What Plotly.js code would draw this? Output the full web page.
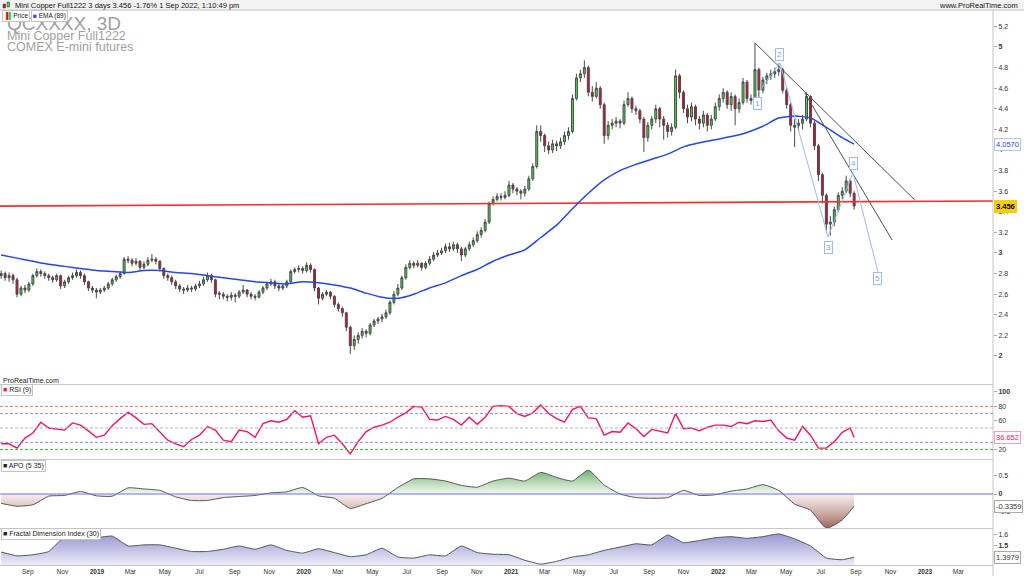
<!DOCTYPE html>
<html><head><meta charset="utf-8">
<script src="https://cdn.plot.ly/plotly-3.0.1.min.js"></script>
<style>html,body{margin:0;padding:0;background:#fff}#chart{width:1024px;height:576px}</style>
</head><body><div id="chart"></div>
<script>
// ---------- DATA (weekly bars, first bar 2018-07-16) ----------
const openPrice = [2.78,2.80,2.76,2.78,2.74,2.60,2.66,2.64,2.70,2.78,
2.82,2.80,2.78,2.76,2.74,2.78,2.68,2.72,2.76,2.78,
2.81,2.78,2.72,2.66,2.64,2.62,2.64,2.66,2.70,2.74,
2.77,2.80,2.94,2.93,2.90,2.92,2.86,2.89,2.93,2.94,
2.92,2.85,2.78,2.76,2.72,2.68,2.65,2.64,2.66,2.65,
2.68,2.70,2.74,2.78,2.74,2.61,2.60,2.58,2.57,2.59,
2.58,2.62,2.64,2.60,2.58,2.57,2.62,2.66,2.70,2.72,
2.68,2.66,2.68,2.72,2.82,2.84,2.85,2.83,2.88,2.84,
2.66,2.56,2.60,2.62,2.58,2.50,2.46,2.42,2.28,2.10,
2.16,2.20,2.24,2.22,2.30,2.34,2.36,2.38,2.42,2.52,
2.60,2.66,2.76,2.86,2.90,2.88,2.90,2.86,2.90,2.94,
2.98,3.00,3.02,3.06,3.04,3.08,3.04,2.98,3.04,3.08,
3.12,3.18,3.22,3.30,3.48,3.52,3.55,3.54,3.56,3.66,
3.62,3.60,3.58,3.62,3.72,3.84,4.18,4.14,4.04,4.00,
4.06,4.04,4.08,4.14,4.18,4.50,4.70,4.74,4.80,4.56,
4.52,4.60,4.44,4.14,4.24,4.26,4.28,4.26,4.44,4.50,
4.40,4.38,4.30,4.12,4.24,4.30,4.40,4.30,4.24,4.18,
4.22,4.72,4.56,4.40,4.32,4.42,4.30,4.26,4.34,4.24,
4.30,4.42,4.50,4.56,4.44,4.52,4.40,4.46,4.66,4.50,
4.48,4.78,4.58,4.68,4.72,4.74,4.76,4.78,4.58,4.44,
4.22,4.24,4.26,4.30,4.52,4.26,4.04,3.76,3.56,3.28,
3.30,3.42,3.56,3.60,3.70,3.58];
const highPrice = [2.83,2.82,2.81,2.80,2.76,2.68,2.69,2.72,2.80,2.85,
2.84,2.82,2.80,2.78,2.80,2.79,2.74,2.78,2.81,2.84,
2.83,2.80,2.73,2.68,2.66,2.66,2.68,2.72,2.76,2.79,
2.82,2.96,2.97,2.95,2.95,2.93,2.92,2.96,2.99,2.96,
2.93,2.86,2.80,2.78,2.74,2.70,2.67,2.69,2.68,2.70,
2.73,2.77,2.81,2.80,2.75,2.63,2.62,2.60,2.62,2.61,
2.64,2.69,2.65,2.62,2.60,2.64,2.68,2.72,2.75,2.74,
2.70,2.70,2.74,2.84,2.86,2.88,2.87,2.91,2.90,2.85,
2.67,2.62,2.64,2.63,2.59,2.52,2.48,2.43,2.29,2.20,
2.23,2.27,2.26,2.32,2.36,2.38,2.41,2.45,2.54,2.63,
2.70,2.78,2.89,2.93,2.92,2.93,2.91,2.92,2.97,3.01,
3.03,3.05,3.09,3.10,3.11,3.10,3.06,3.06,3.11,3.15,
3.21,3.25,3.33,3.50,3.55,3.58,3.58,3.60,3.70,3.68,
3.64,3.62,3.65,3.75,3.87,4.24,4.24,4.16,4.08,4.10,
4.09,4.12,4.18,4.22,4.54,4.74,4.78,4.87,4.82,4.62,
4.66,4.62,4.46,4.28,4.30,4.32,4.30,4.48,4.56,4.52,
4.43,4.40,4.32,4.27,4.33,4.44,4.42,4.33,4.27,4.26,
4.78,4.74,4.58,4.44,4.46,4.44,4.33,4.38,4.36,4.34,
4.46,4.54,4.60,4.58,4.56,4.54,4.50,4.70,4.68,4.54,
5.04,4.80,4.71,4.75,4.78,4.80,4.84,4.80,4.60,4.46,
4.30,4.30,4.34,4.56,4.53,4.28,4.06,3.78,3.58,3.36,
3.45,3.59,3.64,3.75,3.72,3.60];
const lowPrice = [2.75,2.73,2.72,2.70,2.57,2.58,2.61,2.62,2.68,2.76,
2.77,2.75,2.73,2.71,2.72,2.65,2.66,2.70,2.74,2.76,
2.75,2.69,2.63,2.61,2.56,2.60,2.62,2.64,2.68,2.72,
2.75,2.79,2.90,2.87,2.88,2.83,2.84,2.87,2.91,2.89,
2.82,2.75,2.73,2.69,2.65,2.62,2.60,2.62,2.62,2.63,
2.66,2.68,2.72,2.71,2.57,2.55,2.55,2.53,2.54,2.52,
2.56,2.60,2.57,2.55,2.54,2.56,2.60,2.64,2.68,2.65,
2.63,2.64,2.66,2.70,2.80,2.81,2.80,2.81,2.81,2.63,
2.50,2.54,2.58,2.55,2.47,2.43,2.38,2.24,2.02,2.06,
2.12,2.17,2.18,2.20,2.28,2.31,2.33,2.36,2.40,2.50,
2.58,2.64,2.74,2.84,2.85,2.86,2.83,2.84,2.88,2.92,
2.96,2.98,3.00,3.01,3.02,3.00,2.92,2.96,3.02,3.06,
3.10,3.15,3.20,3.28,3.46,3.50,3.51,3.52,3.54,3.58,
3.56,3.52,3.55,3.60,3.70,3.82,4.08,3.98,3.96,3.97,
3.99,4.01,4.05,4.10,4.16,4.48,4.66,4.70,4.52,4.47,
4.50,4.40,4.06,4.10,4.20,4.22,4.21,4.24,4.42,4.36,
4.34,4.26,3.98,4.08,4.20,4.26,4.22,4.10,4.12,4.14,
4.20,4.50,4.36,4.26,4.28,4.24,4.20,4.22,4.18,4.20,
4.28,4.38,4.46,4.40,4.38,4.24,4.36,4.44,4.46,4.44,
4.46,4.50,4.55,4.64,4.68,4.70,4.72,4.55,4.40,4.18,
4.03,4.18,4.20,4.28,4.22,4.00,3.70,3.48,3.20,3.17,
3.26,3.40,3.52,3.58,3.54,3.42];
const closePrice = [2.80,2.76,2.78,2.74,2.60,2.66,2.64,2.70,2.78,2.82,
2.80,2.78,2.76,2.74,2.78,2.68,2.72,2.76,2.78,2.81,
2.78,2.72,2.66,2.64,2.62,2.64,2.66,2.70,2.74,2.77,
2.80,2.94,2.93,2.90,2.92,2.86,2.89,2.93,2.94,2.92,
2.85,2.78,2.76,2.72,2.68,2.65,2.64,2.66,2.65,2.68,
2.70,2.74,2.78,2.74,2.60,2.60,2.58,2.57,2.59,2.58,
2.62,2.64,2.60,2.58,2.57,2.62,2.66,2.70,2.72,2.68,
2.66,2.68,2.72,2.82,2.84,2.85,2.83,2.88,2.84,2.66,
2.56,2.60,2.62,2.58,2.50,2.46,2.42,2.28,2.10,2.16,
2.20,2.24,2.22,2.30,2.34,2.36,2.38,2.42,2.52,2.60,
2.66,2.76,2.86,2.90,2.88,2.90,2.86,2.90,2.94,2.98,
3.00,3.02,3.06,3.04,3.08,3.04,2.98,3.04,3.08,3.12,
3.18,3.22,3.30,3.48,3.52,3.55,3.54,3.56,3.66,3.62,
3.60,3.58,3.62,3.72,3.84,4.18,4.14,4.04,4.00,4.06,
4.04,4.08,4.14,4.18,4.50,4.70,4.74,4.80,4.56,4.52,
4.60,4.44,4.14,4.24,4.26,4.28,4.26,4.44,4.50,4.40,
4.38,4.30,4.12,4.24,4.30,4.40,4.30,4.24,4.18,4.22,
4.72,4.56,4.40,4.32,4.42,4.30,4.26,4.34,4.24,4.30,
4.42,4.50,4.56,4.44,4.52,4.40,4.46,4.66,4.50,4.48,
4.78,4.58,4.68,4.72,4.74,4.76,4.78,4.58,4.44,4.24,
4.24,4.26,4.30,4.52,4.26,4.04,3.76,3.56,3.28,3.30,
3.42,3.56,3.60,3.70,3.58,3.456];

// EMA(89): read every 4th bar + last bar
const emaValues = [2.98,2.95,2.92,2.89,2.87,2.85,2.83,2.82,2.81,2.83,
2.83,2.81,2.80,2.78,2.76,2.74,2.72,2.71,2.70,2.72,
2.71,2.69,2.66,2.61,2.57,2.56,2.60,2.66,2.71,2.78,
2.84,2.92,2.98,3.03,3.15,3.27,3.43,3.58,3.71,3.80,
3.86,3.91,3.96,4.03,4.07,4.10,4.13,4.17,4.23,4.31,
4.33,4.31,4.22,4.12,4.057];
// RSI(9): read every 2nd bar + last bar
const rsiValues = [28,28,22,36,43,58,50,48,47,57,
54,46,37,40,53,63,72,64,55,56,
45,33,28,24,34,40,52,47,33,31,
47,45,37,56,60,58,62,74,65,67,
28,37,40,28,14,31,45,51,54,58,
65,71,80,79,62,61,66,62,54,65,
55,65,80,81,80,70,66,71,82,70,
63,58,76,80,64,63,40,45,44,57,
49,38,48,45,43,70,49,50,46,51,
54,54,52,58,56,60,59,61,46,36,
33,52,40,22,22,31,44,50,36.652];
const rsiLevels = [80,70,50,30,20];
const rsiLevelColors = ['#ff6f6f','#8c8cff','#b4b4b4','#8c8cff','#3cb43c'];
// APO(5,35): every 4th bar + last
const apoValues = [-0.26,-0.34,-0.30,-0.06,-0.04,0.07,-0.05,-0.06,0.17,0.14,
0.10,-0.08,-0.18,-0.18,-0.10,-0.07,-0.04,0.03,0.06,0.18,
-0.05,-0.12,-0.40,-0.27,-0.12,0.18,0.42,0.42,0.36,0.24,
0.19,0.36,0.44,0.36,0.60,0.46,0.36,0.66,0.25,0.00,
-0.10,-0.12,-0.10,0.10,-0.04,-0.02,0.08,0.14,0.26,0.10,
-0.28,-0.45,-0.95,-0.72,-0.3359];
// Fractal Dimension Index(30): every 4th bar + last
const fdiValues = [1.445,1.41,1.42,1.45,1.585,1.585,1.575,1.59,1.50,1.51,
1.51,1.48,1.45,1.45,1.47,1.50,1.47,1.51,1.46,1.435,
1.475,1.44,1.403,1.42,1.48,1.40,1.39,1.42,1.41,1.50,
1.44,1.425,1.42,1.37,1.335,1.36,1.40,1.42,1.46,1.49,
1.52,1.51,1.60,1.53,1.55,1.575,1.585,1.57,1.585,1.61,
1.565,1.50,1.39,1.375,1.3979];

// drawing tools
const supportDates = ['2018-07-14','2023-05-01'];
const supportValues = [3.455,3.505];
const trend1Dates = ['2022-03-07','2022-12-14'];
const trend1Values = [5.04,3.515];
const trend2Dates = ['2022-06-03','2022-11-04'];
const trend2Values = [4.553,3.126];
const waveDates = ['2022-03-12','2022-04-20','2022-07-14','2022-08-27','2022-10-10'];
const waveValues = [4.553,4.845,3.155,3.777,2.816];
const waveLabels = ['1','2','3','4','5'];

// axis ticks
const monthTickDates = ['2018-09-01','2018-11-01','2019-01-01','2019-03-01','2019-05-01','2019-07-01','2019-09-01','2019-11-01',
'2020-01-01','2020-03-01','2020-05-01','2020-07-01','2020-09-01','2020-11-01','2021-01-01','2021-03-01','2021-05-01','2021-07-01',
'2021-09-01','2021-11-01','2022-01-01','2022-03-01','2022-05-01','2022-07-01','2022-09-01','2022-11-01','2023-01-01','2023-03-01'];
const monthTickLabels = ['Sep','Nov','2019','Mar','May','Jul','Sep','Nov','2020','Mar','May','Jul','Sep','Nov','2021','Mar','May','Jul',
'Sep','Nov','2022','Mar','May','Jul','Sep','Nov','2023','Mar'];
const priceTicks = [2,2.2,2.4,2.6,2.8,3,3.2,3.4,3.6,3.8,4,4.2,4.4,4.6,4.8,5,5.2];
const rsiTicks = [20,40,60,80,100];
const apoTicks = [-0.5,0,0.5];
const fdiTicks = [1.5,1.6];

// ---------- BUILD ----------
function weekDate(i){const d=new Date(Date.UTC(2018,6,16+7*i));return d.toISOString().slice(0,10);}
const dates = closePrice.map((_,i)=>weekDate(i));
const last = closePrice.length-1;
const idx4=[];for(let i=0;i<=last-3;i+=4)idx4.push(i);idx4.push(last);
const idx2=[];for(let i=0;i<last;i+=2)idx2.push(i);idx2.push(last);
const d4 = idx4.map(i=>dates[i]);
const d2 = idx2.map(i=>dates[i]);

const FONT='Liberation Sans, Arial, sans-serif';
const PB=565, PT=10, PH=555, PR=993;
const fy = y => (PB-y)/PH;   // pixel row -> paper
const fx = x => x/PR;        // pixel col -> paper
const boldTxt = (arr, isBold) => arr.map(v => isBold(v) ? '<b>'+v+'</b>' : String(v));

const traces = [
 {type:'candlestick', x:dates, open:openPrice, high:highPrice, low:lowPrice, close:closePrice,
  xaxis:'x', yaxis:'y', whiskerwidth:0,
  increasing:{line:{color:'#4a4a4a',width:1}, fillcolor:'#46d646'},
  decreasing:{line:{color:'#4a4a4a',width:1}, fillcolor:'#e0092e'},
  hoverinfo:'skip', showlegend:false},
 {type:'scatter', mode:'lines', x:supportDates, y:supportValues, xaxis:'x', yaxis:'y',
  line:{color:'#ff2a2a', width:1.6}, hoverinfo:'skip', showlegend:false},
 {type:'scatter', mode:'lines', x:d4, y:emaValues, xaxis:'x', yaxis:'y',
  line:{color:'#2747e8', width:1.5, shape:'spline', smoothing:0.6}, hoverinfo:'skip', showlegend:false},
 {type:'scatter', mode:'lines', x:trend1Dates, y:trend1Values, xaxis:'x', yaxis:'y',
  line:{color:'#505050', width:1}, hoverinfo:'skip', showlegend:false},
 {type:'scatter', mode:'lines', x:trend2Dates, y:trend2Values, xaxis:'x', yaxis:'y',
  line:{color:'#505050', width:1}, hoverinfo:'skip', showlegend:false},
 {type:'scatter', mode:'lines', x:waveDates, y:waveValues, xaxis:'x', yaxis:'y',
  line:{color:'#9dbaf6', width:1}, hoverinfo:'skip', showlegend:false},
 {type:'scatter', mode:'lines', x:d2, y:rsiValues, xaxis:'x', yaxis:'y2',
  line:{color:'#f2165e', width:1.4}, hoverinfo:'skip', showlegend:false},
 {type:'scatter', mode:'lines', x:d4, y:apoValues, xaxis:'x', yaxis:'y3',
  line:{color:'#555', width:1, shape:'spline', smoothing:0.5}, fill:'tozeroy',
  fillgradient:{type:'vertical', start:-0.95, stop:0.7,
    colorscale:[[0,'rgba(150,80,70,0.9)'],[0.575,'rgba(240,225,222,0.6)'],[0.576,'rgba(228,242,224,0.6)'],[1,'rgba(80,160,80,0.9)']]},
  hoverinfo:'skip', showlegend:false},
 {type:'scatter', mode:'lines', x:d4, y:fdiValues, xaxis:'x', yaxis:'y4',
  line:{color:'#555', width:1, shape:'spline', smoothing:0.4}, fill:'tozeroy',
  fillgradient:{type:'vertical', start:1.33, stop:1.65,
    colorscale:[[0,'rgba(235,235,248,1)'],[1,'rgba(140,140,205,1)']]},
  hoverinfo:'skip', showlegend:false}
];

const shapes = [
 {type:'rect', xref:'paper', yref:'paper', x0:0, x1:1024/PR, y0:fy(PT), y1:fy(0), fillcolor:'#f3f3f3', line:{width:0}, layer:'below'},
 {type:'line', xref:'paper', yref:'paper', x0:0, x1:1024/PR, y0:fy(PT), y1:fy(PT), line:{color:'#c4c4c4', width:1}},
 {type:'line', xref:'paper', yref:'paper', x0:0, x1:1, y0:fy(384.5), y1:fy(384.5), line:{color:'#c8c8c8', width:1}},
 {type:'line', xref:'paper', yref:'paper', x0:0, x1:1, y0:fy(459.5), y1:fy(459.5), line:{color:'#c8c8c8', width:1}},
 {type:'line', xref:'paper', yref:'paper', x0:0, x1:1, y0:fy(528.5), y1:fy(528.5), line:{color:'#c8c8c8', width:1}},
 {type:'line', xref:'paper', yref:'paper', x0:1, x1:1, y0:fy(576), y1:fy(PT), line:{color:'#c4c4c4', width:1}},
 {type:'line', xref:'paper', yref:'y3', x0:0, x1:1, y0:0, y1:0, line:{color:'#6f6fff', width:1.2}},
 // header icon
 {type:'rect', xref:'paper', yref:'paper', x0:fx(3), x1:fx(5.5), y0:fy(8), y1:fy(4), fillcolor:'#e0092e', line:{color:'#333',width:0.5}},
 {type:'rect', xref:'paper', yref:'paper', x0:fx(7), x1:fx(9.5), y0:fy(7), y1:fy(2), fillcolor:'#46d646', line:{color:'#333',width:0.5}}
];
rsiLevels.forEach((v,k)=>shapes.push({type:'line', xref:'paper', yref:'y2', x0:0, x1:1, y0:v, y1:v,
  line:{color:rsiLevelColors[k], width:1, dash:'3px,2px'}}));

const ann = [];
const A = o => ann.push(Object.assign({showarrow:false, font:{family:FONT, size:7, color:'#222'}}, o));
A({xref:'paper', yref:'paper', x:fx(13), y:fy(5), xanchor:'left', yanchor:'middle', text:'Mini Copper Full1222 3 days 3.456 -1.76% 1 Sep 2022, 1:10:49 pm', font:{family:FONT,size:7.5,color:'#111'}});
A({xref:'paper', yref:'paper', x:1020/PR, y:fy(5), xanchor:'right', yanchor:'middle', text:'www.ProRealTime.com', font:{family:FONT,size:7.5,color:'#111'}});
A({xref:'paper', yref:'paper', x:fx(5), y:fy(23.5), xanchor:'left', yanchor:'middle', text:'QCXXXX, 3D', font:{family:FONT,size:19,color:'#9f9f9f'}});
A({xref:'paper', yref:'paper', x:fx(5), y:fy(36.5), xanchor:'left', yanchor:'middle', text:'Mini Copper Full1222', font:{family:FONT,size:12.5,color:'#9f9f9f'}});
A({xref:'paper', yref:'paper', x:fx(5), y:fy(47), xanchor:'left', yanchor:'middle', text:'COMEX E-mini futures', font:{family:FONT,size:12.5,color:'#9f9f9f'}});
const legendBox = {bgcolor:'#ffffff', bordercolor:'#c4c4c4', borderwidth:1, borderpad:1, xanchor:'left', yanchor:'middle', xref:'paper', yref:'paper'};
A(Object.assign({x:fx(1.5), y:fy(15.5), text:'<span style="color:#e0092e">▐</span><span style="color:#3cc83c">▌</span>Price', font:{family:FONT,size:6.5,color:'#222'}}, legendBox));
A(Object.assign({x:fx(31), y:fy(15.5), text:'<span style="color:#2747e8">■</span> EMA (89)', font:{family:FONT,size:6.5,color:'#222'}}, legendBox));
A({xref:'paper', yref:'paper', x:fx(1), y:fy(380.5), xanchor:'left', yanchor:'middle', text:'ProRealTime.com', font:{family:FONT,size:7,color:'#222'}});
A(Object.assign({x:fx(1), y:fy(390), text:'<span style="color:#f2165e">■</span> RSI (9)'}, legendBox));
A(Object.assign({x:fx(1), y:fy(466), text:'■ APO (5 35)'}, legendBox));
A(Object.assign({x:fx(1), y:fy(533.5), text:'■ Fractal Dimension Index (30)'}, legendBox));
// wave labels
const waveShift = [-10, 8, -10, 9, -7];
waveLabels.forEach((t,k)=>A({xref:'x', yref:'y', x:waveDates[k], y:waveValues[k], yshift:waveShift[k], text:t,
  font:{family:FONT,size:8,color:'#7f9ff0'}, bgcolor:'#ffffff', bordercolor:'#9dbaf6', borderwidth:1, borderpad:1}));
// value tags on the right axis
const tag = (yref, v, txt, fc, bg, bc, bold) => A({xref:'paper', yref:yref, x:1, y:v, xanchor:'left', yanchor:'middle', xshift:1,
  text: bold?'<b>'+txt+'</b>':txt, font:{family:FONT,size:7.5,color:fc}, bgcolor:bg, bordercolor:bc, borderwidth:1, borderpad:1});
tag('y', emaValues[emaValues.length-1], '4.0570', '#2747e8', '#ffffff', '#b8c4f0', false);
tag('y', closePrice[last], '3.456', '#000000', '#f5d000', '#f5d000', true);
tag('y2', rsiValues[rsiValues.length-1], '36.652', '#f2165e', '#ffffff', '#f2a0b8', false);
tag('y3', apoValues[apoValues.length-1], '-0.3359', '#333', '#ffffff', '#aaaaaa', false);
tag('y4', fdiValues[fdiValues.length-1], '1.3979', '#333', '#ffffff', '#aaaaaa', false);

const yax = (domain, range, ticks, boldFn) => ({domain, range, side:'right', anchor:'x', tickmode:'array', tickvals:ticks,
  ticktext:boldTxt(ticks, boldFn), tickfont:{family:FONT,size:7,color:'#333'}, ticks:'outside', ticklen:3, tickcolor:'#aaa',
  showgrid:false, zeroline:false, showline:false, fixedrange:true});

const layout = {
  width:1024, height:576, autosize:false, paper_bgcolor:'#ffffff', plot_bgcolor:'#ffffff',
  margin:{l:0, r:31, t:PT, b:11, pad:0}, showlegend:false, font:{family:FONT},
  xaxis:{domain:[0,1], range:['2018-07-14','2023-05-01'], type:'date', anchor:'y4', tickmode:'array', tickvals:monthTickDates,
    ticktext:monthTickLabels.map(t=>/^\d{4}$/.test(t)?'<b>'+t+'</b>':t), tickfont:{family:FONT,size:6.5,color:'#333'},
    ticks:'', showline:true, linecolor:'#c4c4c4', showgrid:false, zeroline:false,
    rangeslider:{visible:false}, fixedrange:true},
  yaxis: yax([fy(384), 1], [1.728, 5.359], priceTicks, v=>Number.isInteger(v)),
  yaxis2: yax([fy(459), fy(385)], [6.9, 109.7], rsiTicks, v=>v===100),
  yaxis3: yax([fy(528), fy(460)], [-0.944, 0.944], apoTicks, v=>v===0),
  yaxis4: yax([0, fy(529)], [1.327, 1.6545], fdiTicks, v=>v===1.5),
  shapes, annotations:ann
};
Plotly.newPlot('chart', traces, layout, {displayModeBar:false, staticPlot:true});
</script></body></html>
